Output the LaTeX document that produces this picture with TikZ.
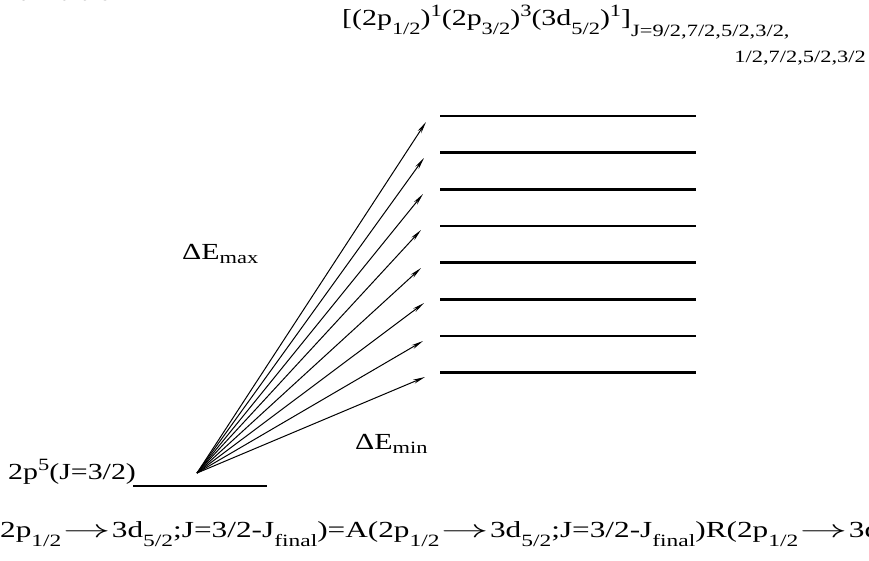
\documentclass[tikz,border=0pt]{standalone}
\usepackage{fontspec}
\usepackage{graphicx}
\setmainfont{Liberation Serif}
\newfontfamily\monofnt{Liberation Mono}
\usetikzlibrary{arrows.meta}
\newcommand\lo[2][0.42em]{\raisebox{-#1}{\scalebox{0.75}{#2}}}
\newcommand\hi[2][0.35em]{\raisebox{#1}{\scalebox{0.75}{#2}}}
\newcommand\wide[2][1.3]{\scalebox{#1}[1]{#2}}
\newcommand\rarr{\kern0.05em\scalebox{1.4}[1]{$\rightarrow$}\kern0.05em}
\begin{document}
\begin{tikzpicture}[x=1pt,y=-1pt,
  lvl/.style={line width=2.9pt},
  trans/.style={line width=1pt,-{Stealth[length=12pt,width=4.2pt]}},
  lbl/.style={inner sep=0pt,font=\fontsize{23}{26}\selectfont}]
\useasboundingbox (0,0) rectangle (869,560);
\clip (0,0) rectangle (869,560);
% clipped document text at top
\node[inner sep=0pt,anchor=base west,font=\monofnt\bfseries\fontsize{17}{20}\selectfont] (doctop) at (-2,0.5) {r of levels.};
% upper levels
\foreach \i/\y/\tx/\ty in {1/116/426/122, 2/152.7/424/158, 3/189.4/423/194, 4/226/421/230,
                          5/262.7/421/268, 6/299.4/424/303, 7/336/423/341, 8/372.8/425/377}{
  \coordinate (L\i w) at (440,\y);
  \coordinate (L\i e) at (696,\y);
  \coordinate (T\i) at (\tx,\ty);
  \draw[lvl] (L\i w) -- (L\i e);
}
% ground level
\coordinate (Gw) at (133,486);
\coordinate (Ge) at (267,486);
\draw[lvl] (Gw) -- (Ge);
\coordinate (O) at (197,473);
\foreach \i in {1,...,8}{\draw[trans] (O) -- (T\i);}
% labels
\node[lbl,anchor=base west] (ground) at (8,479) {\wide{2p\hi{5}(J=3/2)}};
\node[lbl,anchor=base west] (emax) at (182,259) {\wide{ΔE\lo[0.2em]{max}}};
\node[lbl,anchor=base west] (emin) at (355,449) {\wide{ΔE\lo[0.2em]{min}}};
\node[lbl,anchor=base west] (config) at (342,25) {\wide{[(2p\lo{1/2})\hi{1}(2p\lo{3/2})\hi{3}(3d\lo{5/2})\hi{1}]\lo[0.5em]{J=9/2,7/2,5/2,3/2,}}};
\node[inner sep=0pt,anchor=base east,font=\fontsize{17.25}{20}\selectfont] (config2) at (866,62) {\wide{1/2,7/2,5/2,3/2}};
% bottom document line
\node[lbl,anchor=base west] (formula) at (0,537) {\wide[1.36]{2p\lo{1/2}\rarr 3d\lo{5/2};J=3/2-J\lo{final})=A(2p\lo{1/2}\rarr 3d\lo{5/2};J=3/2-J\lo{final})R(2p\lo{1/2}\rarr 3d\lo{5/2}}};
\end{tikzpicture}
\end{document}
